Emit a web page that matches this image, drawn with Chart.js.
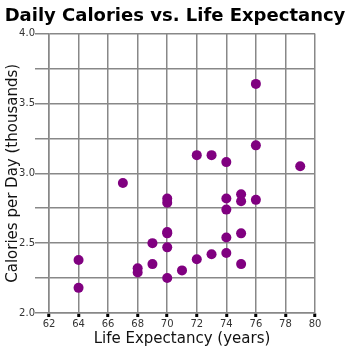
<!DOCTYPE html>
<html>
<head>
<meta charset="utf-8">
<script src="https://cdn.jsdelivr.net/npm/chart.js@4"></script>
<style>
  html, body { margin: 0; padding: 0; background: #fff; }
  #wrap { width: 350px; height: 350px; }
</style>
</head>
<body>
<div id="wrap"><canvas id="chart" width="350" height="350"></canvas></div>
<script>
// life expectancy (years) and daily calories (thousands)
const lifeExpectancy = [76, 76, 72, 73, 74, 79, 67, 70, 70, 75, 75, 74, 76, 74, 70, 70, 75, 74, 69, 70, 64, 73, 74, 72, 69, 75, 68, 68, 71, 70, 64];
const calories = [3.64, 3.20, 3.13, 3.13, 3.08, 3.05, 2.93, 2.82, 2.79, 2.85, 2.80, 2.82, 2.81, 2.74, 2.58, 2.57, 2.57, 2.54, 2.50, 2.47, 2.38, 2.42, 2.43, 2.385, 2.35, 2.35, 2.32, 2.29, 2.305, 2.25, 2.18];

const xTicks = [62, 64, 66, 68, 70, 72, 74, 76, 78, 80];
const yLabels = [2.0, 2.5, 3.0, 3.5, 4.0];

const points = lifeExpectancy.map((x, i) => ({ x: x, y: calories[i] }));
const FONT = '"DejaVu Sans", Verdana, sans-serif';

new Chart(document.getElementById('chart').getContext('2d'), {
  type: 'scatter',
  data: {
    datasets: [{
      data: points,
      backgroundColor: '#800080',
      borderWidth: 0,
      pointRadius: 5,
      pointHoverRadius: 5
    }]
  },
  options: {
    responsive: false,
    animation: false,
    layout: { padding: 0 },
    plugins: {
      legend: { display: false },
      tooltip: { enabled: false },
      title: {
        display: true,
        text: 'Daily Calories vs. Life Expectancy',
        color: '#000',
        font: { family: FONT, size: 18, weight: 'bold' },
        padding: { top: 6, bottom: 6 }
      }
    },
    scales: {
      x: {
        type: 'linear',
        min: 62, max: 80,
        afterBuildTicks: s => { s.ticks = xTicks.map(v => ({ value: v })); },
        afterFit: s => { s.height = 37; },
        grid: { color: '#888', lineWidth: 1.5, tickColor: '#000', tickWidth: 3, tickLength: 4 },
        border: { color: '#888', width: 1.5 },
        ticks: { color: '#333', font: { family: FONT, size: 10 }, padding: 1, maxRotation: 0 },
        title: {
          display: true, text: 'Life Expectancy (years)', color: '#111',
          font: { family: FONT, size: 15 }, padding: { top: 0, bottom: 2 }
        }
      },
      y: {
        min: 2, max: 4,
        ticks: {
          stepSize: 0.25,
          color: '#333',
          padding: 0,
          font: { family: FONT, size: 10 },
          callback: v => yLabels.includes(v) ? v.toFixed(1) : ''
        },
        afterFit: s => { s.width = 49; },
        grid: { color: '#888', lineWidth: 1.5, tickLength: 14 },
        border: { color: '#888', width: 1.5 },
        title: {
          display: true, text: 'Calories per Day (thousands)', color: '#111',
          font: { family: FONT, size: 15 }, padding: { top: 4, bottom: 0 }
        }
      },
      // empty axis on the right, only to leave blank space beside the plot
      yRight: {
        position: 'right',
        min: 2, max: 4,
        afterFit: s => { s.width = 35; },
        ticks: { display: false },
        grid: { drawOnChartArea: false, drawTicks: false },
        border: { display: false }
      }
    }
  }
});
</script>
</body>
</html>
